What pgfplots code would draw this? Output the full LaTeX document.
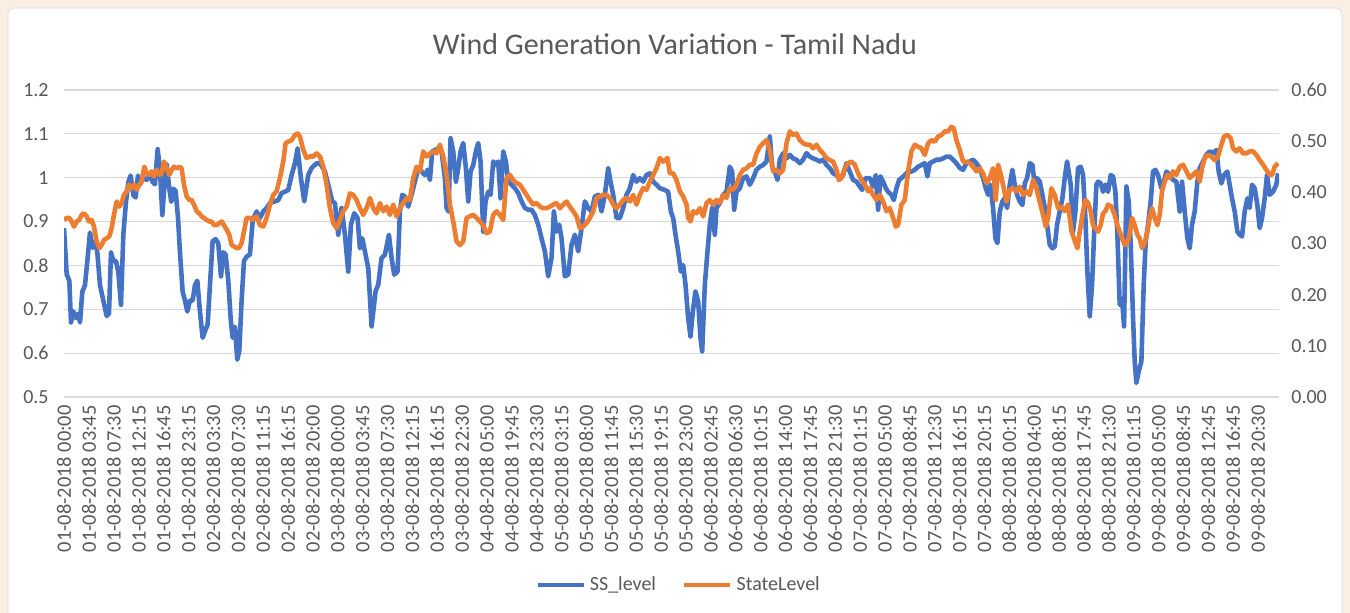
\documentclass[border=0pt]{standalone}
\usepackage{fontspec}
\setmainfont{Carlito}
\usepackage{pgfplots}
\pgfplotsset{compat=1.18}
\usepackage{pgfplotstable}
\definecolor{ssblue}{HTML}{4472C4}
\definecolor{storange}{HTML}{ED7D31}
\definecolor{txtgray}{HTML}{595959}
\definecolor{gridgray}{HTML}{D9D9D9}
\definecolor{peach}{RGB}{251,238,226}

% x = position along the time axis (first sample 192, 49 labels every 74.64)
\pgfplotstableread{
x y
192 0.885
200 0.78
208 0.765
213 0.67
220 0.695
228 0.68
235 0.69
240 0.67
247 0.74
255 0.755
262 0.81
270 0.875
278 0.84
285 0.855
292 0.83
300 0.755
310 0.72
320 0.685
327 0.69
333 0.83
340 0.81
348 0.81
355 0.785
363 0.71
370 0.87
378 0.945
385 0.99
392 1.005
400 0.96
407 0.955
414 1.005
420 0.985
430 1.0
440 0.995
450 1.005
458 0.99
465 0.985
473 1.065
480 1.02
487 0.915
494 0.99
500 1.03
508 0.975
514 0.945
520 0.975
527 0.97
534 0.91
540 0.83
548 0.74
555 0.72
562 0.695
570 0.72
578 0.72
585 0.755
592 0.765
600 0.695
608 0.635
615 0.65
623 0.665
630 0.755
638 0.855
647 0.86
655 0.85
663 0.775
670 0.83
677 0.825
685 0.765
692 0.68
698 0.635
705 0.66
712 0.585
718 0.605
725 0.72
732 0.81
740 0.82
750 0.825
758 0.9
765 0.915
770 0.923
780 0.908
790 0.923
800 0.931
810 0.942
825 0.946
835 0.949
845 0.965
855 0.968
865 0.972
875 1.006
885 1.033
893 1.067
903 0.999
913 0.946
925 1.006
935 1.022
950 1.033
960 1.033
975 1.014
985 0.984
997 0.946
1005 0.942
1015 0.870
1025 0.931
1035 0.870
1045 0.786
1053 0.893
1063 0.919
1073 0.908
1080 0.839
1087 0.862
1095 0.832
1105 0.794
1115 0.661
1127 0.741
1135 0.756
1145 0.817
1155 0.824
1167 0.870
1175 0.817
1183 0.779
1193 0.786
1200 0.923
1207 0.961
1215 0.957
1225 0.934
1235 0.961
1245 0.991
1255 1.022
1265 1.014
1275 1.006
1283 1.018
1290 0.995
1297 1.060
1305 1.063
1315 1.067
1325 1.060
1335 0.999
1340 0.931
1346 0.923
1352 1.090
1360 1.060
1368 0.991
1375 1.022
1382 1.060
1390 1.079
1398 1.022
1405 0.946
1412 1.014
1420 1.029
1428 1.060
1435 1.079
1442 1.037
1450 0.877
1457 0.946
1465 0.968
1472 0.961
1480 1.037
1488 1.029
1495 1.037
1502 0.953
1510 1.060
1518 1.037
1525 0.991
1535 0.984
1545 0.976
1555 0.965
1565 0.946
1575 0.931
1585 0.927
1595 0.927
1605 0.915
1615 0.893
1625 0.862
1635 0.832
1645 0.775
1655 0.817
1662 0.923
1670 0.877
1678 0.893
1685 0.862
1695 0.775
1705 0.779
1715 0.847
1725 0.870
1735 0.832
1745 0.885
1755 0.946
1765 0.931
1775 0.923
1785 0.957
1795 0.961
1805 0.923
1815 0.961
1825 1.022
1832 0.991
1840 0.961
1850 0.908
1860 0.908
1870 0.931
1880 0.961
1890 0.976
1900 1.006
1910 0.991
1920 0.999
1930 0.991
1940 1.006
1950 1.010
1960 0.991
1970 0.984
1980 0.976
1995 0.972
2005 0.968
2013 0.923
2020 0.908
2027 0.870
2035 0.832
2043 0.786
2050 0.801
2057 0.756
2065 0.680
2072 0.638
2079 0.695
2087 0.741
2095 0.718
2102 0.634
2107 0.604
2115 0.756
2123 0.832
2130 0.893
2137 0.931
2145 0.870
2150 0.931
2160 0.942
2170 0.961
2180 0.968
2190 1.025
2197 1.014
2203 0.927
2210 0.968
2220 0.976
2230 0.999
2240 1.003
2250 0.984
2260 0.999
2270 1.018
2280 1.025
2290 1.029
2300 1.037
2310 1.094
2317 1.025
2325 1.014
2333 0.995
2340 1.041
2350 1.056
2360 1.044
2370 1.052
2380 1.044
2390 1.041
2400 1.033
2410 1.041
2420 1.056
2430 1.048
2440 1.044
2450 1.041
2460 1.037
2470 1.041
2480 1.029
2490 1.022
2500 1.010
2510 1.006
2520 0.999
2530 1.006
2540 1.033
2550 1.014
2560 0.995
2570 0.991
2580 0.980
2587 0.972
2597 0.999
2610 0.999
2620 0.980
2628 1.006
2635 0.927
2642 1.003
2650 0.991
2658 0.976
2665 0.968
2675 0.961
2682 0.949
2690 0.976
2698 0.995
2705 0.999
2715 1.006
2725 1.014
2735 1.014
2745 1.018
2755 1.025
2765 1.029
2775 1.033
2783 1.003
2790 1.033
2800 1.037
2810 1.041
2820 1.041
2830 1.044
2840 1.048
2850 1.048
2860 1.041
2870 1.033
2880 1.022
2890 1.018
2900 1.033
2910 1.037
2920 1.041
2930 1.033
2940 1.022
2950 0.999
2958 0.976
2965 0.961
2972 0.984
2980 0.931
2987 0.862
2993 0.851
3000 0.923
3008 0.946
3015 0.953
3022 0.931
3030 0.984
3038 1.018
3045 0.984
3052 0.961
3060 0.946
3068 0.938
3075 0.987
3082 0.999
3090 1.033
3098 1.029
3105 0.984
3112 0.999
3120 0.991
3128 0.961
3135 0.931
3142 0.893
3150 0.847
3158 0.839
3165 0.843
3172 0.893
3180 0.923
3188 0.953
3195 0.999
3202 1.037
3210 0.999
3213 0.984
3220 0.877
3227 0.923
3235 1.022
3243 1.025
3250 1.006
3257 0.908
3263 0.786
3270 0.684
3277 0.756
3283 0.870
3290 0.984
3295 0.991
3303 0.987
3310 0.968
3317 0.984
3325 0.968
3333 1.006
3340 1.003
3347 0.968
3353 0.870
3360 0.710
3367 0.725
3373 0.661
3380 0.980
3387 0.946
3393 0.847
3400 0.680
3405 0.581
3410 0.532
3417 0.558
3425 0.581
3432 0.756
3438 0.855
3445 0.893
3453 0.946
3460 1.014
3467 1.018
3475 1.006
3485 0.976
3493 0.991
3500 1.014
3510 1.006
3520 0.995
3530 0.991
3540 0.923
3547 0.991
3555 0.923
3563 0.862
3570 0.839
3577 0.893
3585 0.923
3593 0.991
3600 1.022
3610 1.037
3620 1.052
3630 1.060
3640 1.056
3650 1.063
3657 1.014
3665 0.987
3673 1.006
3683 1.014
3690 0.984
3697 0.953
3705 0.923
3713 0.877
3720 0.870
3727 0.866
3735 0.923
3743 0.953
3750 0.931
3757 0.984
3765 0.976
3773 0.938
3780 0.885
3787 0.908
3795 0.953
3802 1.006
3810 0.961
3820 0.968
3830 0.984
3835 1.010
}\ssdata

\pgfplotstableread{
x y
192 0.346
200 0.350
208 0.350
215 0.343
222 0.333
230 0.343
238 0.346
245 0.356
252 0.359
260 0.353
267 0.343
275 0.346
282 0.333
290 0.304
298 0.291
305 0.297
312 0.307
320 0.310
328 0.314
335 0.330
342 0.356
350 0.382
358 0.372
365 0.379
372 0.395
380 0.402
387 0.415
395 0.408
402 0.415
410 0.405
418 0.415
425 0.421
433 0.450
440 0.437
448 0.434
455 0.441
462 0.431
470 0.444
478 0.434
485 0.437
492 0.460
500 0.447
508 0.434
515 0.444
522 0.450
530 0.447
538 0.450
545 0.447
552 0.415
560 0.392
568 0.385
575 0.385
582 0.376
590 0.363
598 0.359
605 0.353
612 0.350
620 0.346
628 0.343
635 0.343
642 0.336
650 0.336
658 0.340
665 0.343
672 0.336
680 0.327
688 0.317
695 0.297
703 0.294
710 0.291
717 0.291
725 0.301
732 0.323
740 0.350
750 0.350
758 0.346
770 0.353
780 0.336
790 0.333
800 0.350
810 0.376
820 0.395
830 0.402
840 0.428
850 0.460
857 0.496
865 0.499
875 0.502
885 0.512
893 0.515
900 0.509
910 0.483
920 0.467
930 0.470
940 0.470
950 0.476
960 0.470
970 0.450
980 0.415
990 0.369
1000 0.340
1010 0.330
1020 0.346
1030 0.363
1040 0.372
1050 0.398
1060 0.395
1070 0.385
1080 0.369
1090 0.356
1100 0.369
1110 0.389
1120 0.369
1130 0.359
1140 0.379
1150 0.363
1160 0.372
1170 0.356
1180 0.376
1190 0.353
1200 0.369
1210 0.379
1220 0.389
1230 0.385
1240 0.428
1250 0.450
1260 0.441
1270 0.480
1280 0.470
1290 0.476
1300 0.480
1310 0.476
1320 0.493
1330 0.470
1340 0.434
1350 0.376
1360 0.343
1370 0.304
1380 0.297
1390 0.304
1400 0.350
1410 0.353
1420 0.356
1430 0.350
1440 0.343
1450 0.336
1460 0.320
1470 0.323
1480 0.356
1490 0.363
1500 0.356
1510 0.346
1520 0.428
1530 0.434
1540 0.424
1550 0.418
1560 0.415
1570 0.405
1580 0.395
1590 0.385
1600 0.376
1610 0.379
1620 0.372
1630 0.369
1640 0.369
1650 0.372
1660 0.376
1670 0.379
1680 0.369
1690 0.376
1700 0.382
1710 0.372
1720 0.363
1730 0.353
1740 0.330
1750 0.333
1760 0.340
1770 0.350
1780 0.363
1790 0.389
1800 0.392
1810 0.395
1820 0.395
1830 0.389
1840 0.376
1850 0.369
1860 0.376
1870 0.385
1880 0.389
1890 0.382
1900 0.395
1910 0.376
1920 0.395
1930 0.408
1940 0.405
1950 0.421
1960 0.434
1970 0.447
1980 0.467
1990 0.460
2003 0.467
2010 0.437
2020 0.437
2030 0.424
2040 0.402
2050 0.392
2060 0.376
2065 0.350
2072 0.343
2080 0.363
2090 0.359
2100 0.369
2110 0.353
2120 0.379
2130 0.385
2140 0.376
2150 0.385
2160 0.379
2170 0.395
2180 0.389
2190 0.408
2200 0.405
2210 0.415
2220 0.434
2230 0.444
2240 0.447
2250 0.454
2260 0.454
2270 0.476
2280 0.489
2290 0.496
2300 0.502
2310 0.483
2320 0.441
2330 0.444
2340 0.437
2350 0.444
2360 0.496
2370 0.519
2380 0.512
2390 0.515
2400 0.502
2410 0.496
2420 0.493
2430 0.493
2440 0.486
2450 0.493
2460 0.483
2470 0.476
2480 0.467
2490 0.463
2500 0.460
2510 0.444
2517 0.424
2525 0.428
2535 0.447
2545 0.457
2555 0.460
2565 0.454
2575 0.437
2585 0.424
2595 0.415
2605 0.402
2610 0.408
2620 0.395
2630 0.385
2640 0.395
2650 0.382
2660 0.363
2670 0.369
2680 0.350
2688 0.333
2695 0.336
2705 0.376
2715 0.385
2725 0.441
2735 0.480
2745 0.493
2755 0.489
2765 0.486
2775 0.473
2785 0.496
2795 0.502
2805 0.499
2815 0.509
2825 0.512
2835 0.519
2845 0.519
2855 0.528
2862 0.525
2870 0.502
2880 0.483
2890 0.460
2900 0.460
2910 0.457
2920 0.450
2930 0.441
2940 0.447
2950 0.437
2960 0.418
2970 0.428
2980 0.447
2988 0.385
2995 0.454
3002 0.437
3010 0.415
3020 0.382
3030 0.405
3040 0.408
3050 0.402
3060 0.411
3070 0.395
3080 0.402
3090 0.395
3100 0.424
3110 0.408
3120 0.382
3130 0.356
3138 0.333
3145 0.350
3155 0.408
3165 0.395
3175 0.369
3185 0.372
3195 0.363
3205 0.376
3215 0.325
3225 0.305
3233 0.291
3240 0.323
3250 0.363
3257 0.385
3265 0.379
3273 0.363
3280 0.336
3287 0.330
3295 0.323
3303 0.336
3310 0.359
3317 0.363
3325 0.376
3335 0.372
3345 0.356
3353 0.336
3360 0.323
3367 0.310
3375 0.297
3383 0.301
3390 0.320
3397 0.350
3405 0.336
3413 0.317
3420 0.310
3427 0.291
3435 0.301
3443 0.323
3450 0.350
3457 0.369
3465 0.350
3473 0.336
3480 0.356
3487 0.402
3495 0.421
3503 0.434
3510 0.428
3520 0.441
3530 0.434
3540 0.450
3550 0.454
3560 0.441
3570 0.428
3580 0.434
3590 0.441
3600 0.421
3607 0.447
3615 0.467
3625 0.473
3635 0.470
3645 0.463
3655 0.470
3665 0.493
3673 0.509
3683 0.512
3693 0.506
3700 0.486
3710 0.480
3720 0.486
3730 0.476
3740 0.476
3750 0.480
3760 0.480
3770 0.473
3780 0.463
3790 0.454
3800 0.444
3810 0.434
3817 0.434
3825 0.450
3835 0.457
}\stdata

\begin{document}
\begin{tikzpicture}[x=1pt,y=1pt]
\useasboundingbox (0,0) rectangle (675,306.5);
\fill[peach] (0,0) rectangle (675,306.5);
\filldraw[fill=white, draw=black!15, rounded corners=3pt] (4,-3) rectangle (671,302.5);
\node[font=\fontsize{15}{18}\selectfont, text=txtgray] at (337.5,284.5) {Wind Generation Variation - Tamil Nadu};
\pgfplotsset{common/.style={
  at={(32pt,108pt)}, anchor=south west, scale only axis,
  width=607.5pt, height=153.5pt,
  xmin=192, xmax=3838,
  axis line style={draw=none}, major tick length=0pt,
  tick label style={font=\fontsize{10}{12}\selectfont, text=txtgray},
  /pgf/number format/assume math mode=true,
}}
\begin{axis}[common,
  ymin=0.5, ymax=1.2, ytick={0.5,0.6,0.7,0.8,0.9,1,1.1,1.2},
  ymajorgrids, grid style={gridgray, line width=0.6pt},
  xtick={192,266.64,...,3775},
  xticklabels={01-08-2018 00:00,01-08-2018 03:45,01-08-2018 07:30,01-08-2018 12:15,01-08-2018 16:45,01-08-2018 23:15,02-08-2018 03:30,02-08-2018 07:30,02-08-2018 11:15,02-08-2018 16:15,02-08-2018 20:00,03-08-2018 00:00,03-08-2018 03:45,03-08-2018 07:30,03-08-2018 12:15,03-08-2018 16:15,03-08-2018 22:30,04-08-2018 05:00,04-08-2018 19:45,04-08-2018 23:30,05-08-2018 03:15,05-08-2018 08:00,05-08-2018 11:45,05-08-2018 15:30,05-08-2018 19:15,05-08-2018 23:00,06-08-2018 02:45,06-08-2018 06:30,06-08-2018 10:15,06-08-2018 14:00,06-08-2018 17:45,06-08-2018 21:30,07-08-2018 01:15,07-08-2018 05:00,07-08-2018 08:45,07-08-2018 12:30,07-08-2018 16:15,07-08-2018 20:15,08-08-2018 00:15,08-08-2018 04:00,08-08-2018 08:15,08-08-2018 17:45,08-08-2018 21:30,09-08-2018 01:15,09-08-2018 05:00,09-08-2018 08:45,09-08-2018 12:45,09-08-2018 16:45,09-08-2018 20:30},
  xticklabel style={rotate=90, anchor=east, inner sep=0pt, font=\fontsize{10.2}{12}\selectfont},
  xticklabel shift=4pt,
  yticklabel style={anchor=east, inner sep=0pt},
  yticklabel shift=7.5pt,
]
\addplot[ssblue, line width=2.3pt, line join=round] table[x=x,y=y] {\ssdata};
\end{axis}
\begin{axis}[common,
  ymin=0, ymax=0.6, ytick={0,0.1,0.2,0.3,0.4,0.5,0.6},
  axis y line*=right, axis x line=none,
  yticklabel style={anchor=west, inner sep=0pt, /pgf/number format/.cd, fixed, fixed zerofill, precision=2},
  yticklabel shift=6pt,
  legend columns=2,
  legend style={at={(0.5066,-0.612)}, anchor=center, draw=none, fill=none,
    font=\fontsize{10}{12}\selectfont, text=txtgray,
    /tikz/every even column/.append style={column sep=11pt}},
  legend image code/.code={\draw[#1] (0pt,0pt) -- (23pt,0pt);},
]
\addlegendimage{ssblue, line width=2.3pt}
\addlegendentry{SS\_level}
\addplot[storange, line width=2.3pt, line join=round] table[x=x,y=y] {\stdata};
\addlegendentry{StateLevel}
\end{axis}
\end{tikzpicture}
\end{document}
